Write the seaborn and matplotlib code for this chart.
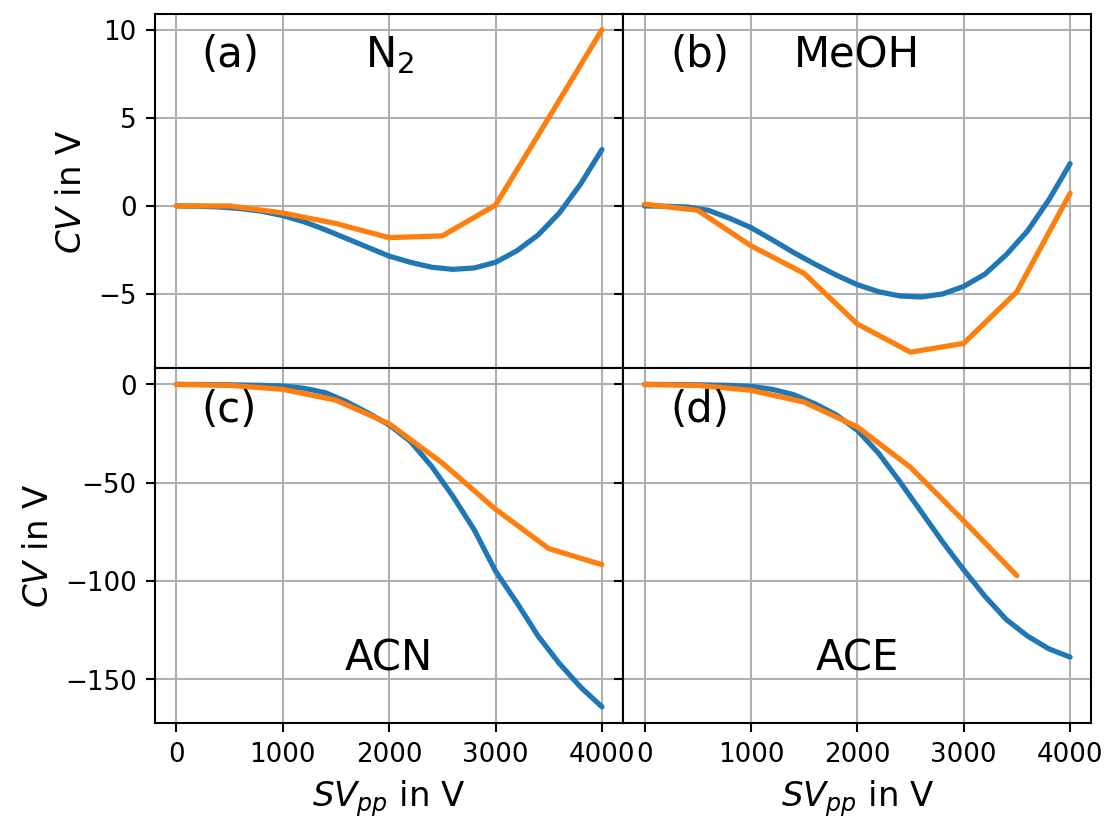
#!/usr/bin/env python
'''
CV vs SVpp for four gases, simulated (blue) and measured (orange)
'''
import matplotlib
matplotlib.use('Agg')
import matplotlib.pyplot as plt
import seaborn as sns


# separation voltage grids
sv_fine = [0, 200, 400, 600, 800, 1000, 1200, 1400, 1600, 1800, 2000,
           2200, 2400, 2600, 2800, 3000, 3200, 3400, 3600, 3800, 4000]
sv_coarse = [0, 500, 1000, 1500, 2000, 2500, 3000, 3500, 4000]

# (a) N2
n2_blue = [0, -0.02, -0.06, -0.15, -0.3, -0.55, -0.9, -1.35, -1.85, -2.35,
           -2.85, -3.2, -3.48, -3.6, -3.52, -3.2, -2.55, -1.65, -0.4, 1.25,
           3.2]
n2_orange = [0, 0, -0.4, -1.0, -1.8, -1.7, 0.05, 5.0, 10.0]

# (b) MeOH
meoh_blue = [0, -0.02, -0.06, -0.25, -0.7, -1.23, -1.92, -2.64, -3.3, -3.92,
             -4.47, -4.87, -5.11, -5.17, -5.0, -4.57, -3.87, -2.77, -1.42,
             0.34, 2.4]
meoh_orange = [0.1, -0.25, -2.26, -3.83, -6.7, -8.3, -7.8, -4.87, 0.72]

# (c) ACN
acn_blue = [0, -0.05, -0.15, -0.3, -0.5, -0.8, -2.0, -4.2, -8.8, -14.5,
            -20.6, -29, -41.7, -57, -74, -95, -111, -128, -142, -154, -164]
acn_orange = [0, -0.5, -2.5, -8, -20, -40, -63.5, -83.5, -91.7]

# (d) ACE, measured data stops at 3500 V
ace_blue = [0, -0.05, -0.15, -0.3, -0.5, -1.0, -2.5, -5.2, -9.8, -15.4,
            -23.3, -35, -49.5, -64.7, -80, -94.3, -107.8, -119.6, -128,
            -134.5, -138.7]
ace_orange = [0, -0.5, -3, -9, -21.6, -42.2, -69.4, -97.3]

panel_tags = ['(a)', '(b)', '(c)', '(d)']
panel_names = ['N$_2$', 'MeOH', 'ACN', 'ACE']
blue_series = [n2_blue, meoh_blue, acn_blue, ace_blue]
orange_series = [n2_orange, meoh_orange, acn_orange, ace_orange]


sns.set_theme(style='ticks', rc={
    'axes.edgecolor': 'black', 'axes.linewidth': 0.8,
    'axes.labelcolor': 'black', 'text.color': 'black',
    'xtick.color': 'black', 'ytick.color': 'black',
    'xtick.major.size': 3.5, 'ytick.major.size': 3.5,
    'xtick.major.width': 0.8, 'ytick.major.width': 0.8,
    'xtick.labelsize': 10, 'ytick.labelsize': 10, 'axes.labelsize': 13,
    'axes.grid': True, 'grid.color': '#b0b0b0', 'grid.linewidth': 0.8,
    'lines.linewidth': 2,
})
plt.rcParams['font.family'] = ['DejaVu Sans']

DPI = 188
fig, axes = plt.subplots(2, 2, sharex=True, sharey='row',
                         figsize=(1104.4 / DPI, 818.4 / DPI), dpi=DPI)
fig.subplots_adjust(left=155 / 1104, right=1091 / 1104,
                    top=1 - 14 / 818, bottom=1 - 723 / 818,
                    wspace=0, hspace=0)

for i, ax in enumerate(axes.flat):
    blue = blue_series[i]
    orange = orange_series[i]
    sns.lineplot(x=sv_fine, y=blue, ax=ax, color='#1f77b4',
                 linewidth=2, estimator=None)
    sns.lineplot(x=sv_coarse[:len(orange)], y=orange, ax=ax,
                 color='#ff7f0e', linewidth=2, estimator=None)
    ax.grid(True)

    ax.text(0.1, 0.85, panel_tags[i], transform=ax.transAxes,
            fontsize=16, ha='left', va='baseline')
    name_y = 0.85 if i < 2 else 0.15
    ax.text(0.5, name_y, panel_names[i], transform=ax.transAxes,
            fontsize=16, ha='center', va='baseline')

axes[0, 0].set_xticks([0, 1000, 2000, 3000, 4000])
axes[0, 0].set_yticks([-5, 0, 5, 10])
axes[1, 0].set_yticks([-150, -100, -50, 0])

for ax in axes[:, 0]:
    ax.set_ylabel('$CV$ in V')
for ax in axes[1, :]:
    ax.set_xlabel('$SV_{pp}$ in V')

fig.savefig('out.png', dpi=DPI)
